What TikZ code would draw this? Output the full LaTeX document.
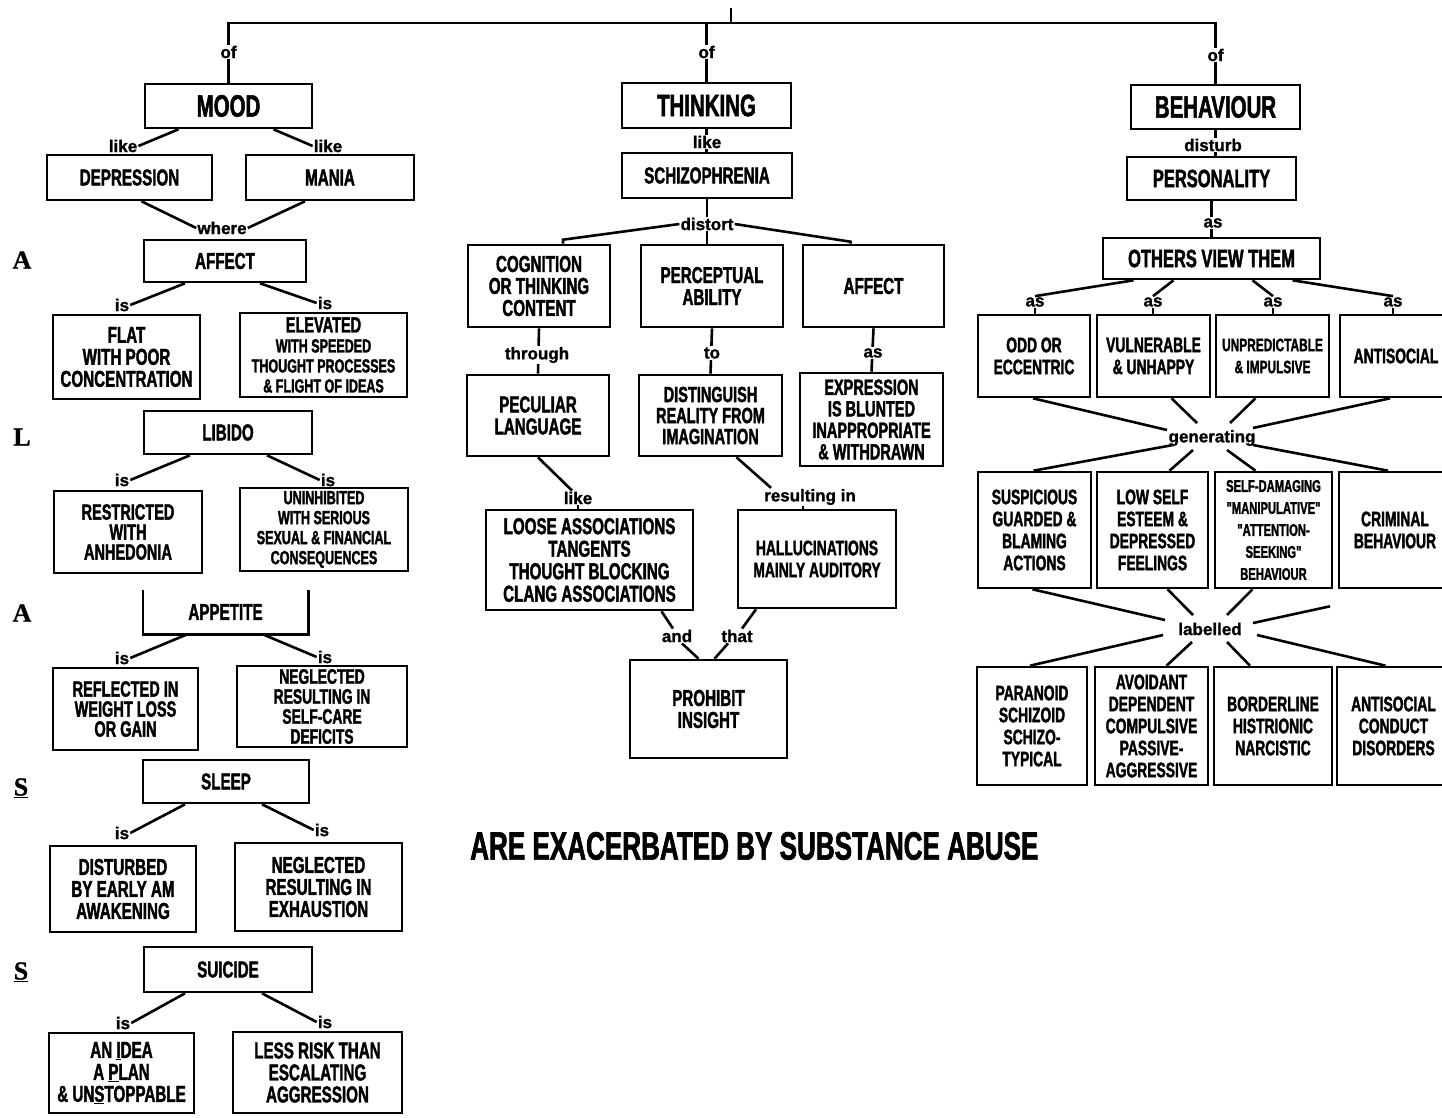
\documentclass[tikz,border=0pt]{standalone}
\usepackage{fontspec}
\setmainfont{Liberation Sans}
\newfontfamily\cf[FakeStretch=0.66,FakeBold=1.6]{Liberation Sans}
\newfontfamily\lf[FakeBold=1.2]{Liberation Sans}
\newfontfamily\serf[FakeBold=1]{Liberation Serif}
\usetikzlibrary{calc}
\newcommand\bx[2]{\cf\bfseries\fontsize{#1}{#2}\selectfont}
\newcommand\lbfont{\lf\bfseries\fontsize{17}{17}\selectfont}
\tikzset{
  box/.style={draw, line width=2.6pt, inner sep=0pt, align=center, font=\bx{23}{22}},
  rbox/.style={font=\bx{21}{22}},
  lbl/.style={font=\lbfont, inner sep=1pt, fill=white},
  ln/.style={line width=2.6pt},
  ltr/.style={font=\serf\bfseries\fontsize{26}{26}\selectfont, inner sep=0pt},
}
\newcommand\mybox[7][]{\node[box,minimum width={(#5)-(#3)},minimum height={(#6)-(#4)},#1] (#2) at ({((#3)+(#5))/2},{((#4)+(#6))/2}) {#7};}
\begin{document}
\begin{tikzpicture}[x=1pt,y=-1pt]
\useasboundingbox (0,0) rectangle (1442,1117);
\fill[white] (0,0) rectangle (1442,1117);
\clip (0,0) rectangle (1442,1117);

% ---------- left column ----------
\mybox[font=\bx{31}{30}]{mood}{145}{84}{312}{128}{MOOD}
\mybox{dep}{47}{155}{212}{200}{DEPRESSION}
\mybox{mania}{246}{155}{414}{200}{MANIA}
\mybox{affect}{144}{240}{306}{282}{AFFECT}
\mybox{flat}{53}{315}{200}{399}{FLAT\\WITH POOR\\CONCENTRATION}
\mybox[font=\bx{19}{20}]{elev}{240}{313}{407}{397}{{\fontsize{22}{20}\selectfont ELEVATED}\\WITH SPEEDED\\THOUGHT PROCESSES\\\& FLIGHT OF IDEAS}
\mybox{libido}{144}{411}{312}{454}{LIBIDO}
\mybox[font=\bx{22}{20}]{restr}{54}{491}{202}{573}{RESTRICTED\\WITH\\ANHEDONIA}
\mybox[font=\bx{19}{20}]{uninh}{240}{488}{408}{571}{UNINHIBITED\\WITH SERIOUS\\SEXUAL \& FINANCIAL\\CONSEQUENCES}
\node[inner sep=0pt, minimum width=165, minimum height=44, font=\bx{23}{22}] (app) at (225.5,612) {APPETITE};
\draw[ln] (app.north west) -- (app.south west) -- (app.south east) -- (app.north east);
\mybox[font=\bx{22}{20}]{refl}{53}{668}{198}{750}{REFLECTED IN\\WEIGHT LOSS\\OR GAIN}
\mybox[font=\bx{21}{20}]{negl}{237}{666}{407}{747}{NEGLECTED\\RESULTING IN\\SELF-CARE\\DEFICITS}
\mybox{sleep}{143}{760}{309}{803}{SLEEP}
\mybox{disturbed}{50}{846}{196}{932}{DISTURBED\\BY EARLY AM\\AWAKENING}
\mybox{negltwo}{235}{843}{402}{931}{NEGLECTED\\RESULTING IN\\EXHAUSTION}
\mybox{suicide}{144}{947}{312}{992}{SUICIDE}
\mybox{idea}{49}{1033}{194}{1113}{AN \underline{I}DEA\\A \underline{P}LAN\\\& UN\underline{S}TOPPABLE}
\mybox{risk}{233}{1032}{402}{1113}{LESS RISK THAN\\ESCALATING\\AGGRESSION}

\node[ltr] (la) at (22,260) {A};
\node[ltr] (ll) at (22,437) {L};
\node[ltr] (lb) at (22,613) {A};
\node[ltr] (ls) at (21,788) {\underline{S}};
\node[ltr] (lt) at (21,972) {\underline{S}};

% ---------- middle column ----------
\mybox[font=\bx{31}{30}]{think}{622}{83}{791}{128}{THINKING}
\mybox{schizo}{622}{153}{792}{198}{SCHIZOPHRENIA}
\mybox{cog}{468}{245}{610}{327}{COGNITION\\OR THINKING\\CONTENT}
\mybox{perc}{641}{245}{783}{327}{PERCEPTUAL\\ABILITY}
\mybox{afftwo}{803}{245}{944}{327}{AFFECT}
\mybox{pec}{467}{375}{609}{456}{PECULIAR\\LANGUAGE}
\mybox[font=\bx{22}{21}]{disting}{639}{375}{782}{456}{DISTINGUISH\\REALITY FROM\\IMAGINATION}
\mybox[font=\bx{22}{21.5}]{expr}{800}{373}{943}{466}{EXPRESSION\\IS BLUNTED\\INAPPROPRIATE\\\& WITHDRAWN}
\mybox[font=\bx{23}{22.5}]{loose}{486}{510}{693}{610}{LOOSE ASSOCIATIONS\\TANGENTS\\THOUGHT BLOCKING\\CLANG ASSOCIATIONS}
\mybox[font=\bx{21}{22}]{hall}{738}{510}{896}{608}{HALLUCINATIONS\\MAINLY AUDITORY}
\mybox{prohib}{630}{660}{787}{758}{PROHIBIT\\INSIGHT}

\node[font=\bx{39.5}{38}, anchor=west, inner sep=0pt] (abuse) at (470,846) {ARE EXACERBATED BY SUBSTANCE ABUSE};

% ---------- right column ----------
\mybox[font=\bx{31}{30}]{behav}{1131}{85}{1300}{129}{BEHAVIOUR}
\mybox[font=\bx{25}{24}]{pers}{1127}{157}{1296}{200}{PERSONALITY}
\mybox[font=\bx{25}{24}]{others}{1103}{238}{1320}{279}{OTHERS VIEW THEM}
\mybox[rbox]{odd}{978}{315}{1090}{397}{ODD OR\\ECCENTRIC}
\mybox[rbox]{vuln}{1097}{315}{1210}{397}{VULNERABLE\\\& UNHAPPY}
\mybox[rbox,font=\bx{18}{22}]{unpred}{1216}{315}{1329}{397}{UNPREDICTABLE\\\& IMPULSIVE}
\mybox[rbox]{anti}{1340}{315}{1452}{397}{ANTISOCIAL}
\mybox[rbox]{susp}{978}{472}{1091}{588}{SUSPICIOUS\\GUARDED \&\\BLAMING\\ACTIONS}
\mybox[rbox]{low}{1097}{472}{1208}{588}{LOW SELF\\ESTEEM \&\\DEPRESSED\\FEELINGS}
\mybox[rbox,font=\bx{17}{22}]{selfd}{1215}{472}{1332}{588}{SELF-DAMAGING\\"MANIPULATIVE"\\"ATTENTION-\\SEEKING"\\BEHAVIOUR}
\mybox[rbox]{crim}{1339}{472}{1451}{588}{CRIMINAL\\BEHAVIOUR}
\mybox[rbox]{para}{977}{667}{1087}{785}{PARANOID\\SCHIZOID\\SCHIZO-\\TYPICAL}
\mybox[rbox]{avoid}{1095}{667}{1208}{785}{AVOIDANT\\DEPENDENT\\COMPULSIVE\\PASSIVE-\\AGGRESSIVE}
\mybox[rbox]{bord}{1214}{667}{1332}{785}{BORDERLINE\\HISTRIONIC\\NARCISTIC}
\mybox[rbox]{antitwo}{1337}{667}{1450}{785}{ANTISOCIAL\\CONDUCT\\DISORDERS}

% ---------- lines passing through labels ----------
\coordinate (bar) at (731,23);
\coordinate (tick) at (731,8);
\draw[ln] (tick) -- (bar);
\draw[ln] (mood.north) -- (mood.north |- bar) -| (behav.north);
\draw[ln] (think.north) -- (think.north |- bar);
\draw[ln] (think.south) -- (think.south |- schizo.north);
\draw[ln] (cog.south) -- (pec.north);
\draw[ln] (perc.south) -- (disting.north);
\draw[ln] (afftwo.south) -- (expr.north);
\draw[ln] (behav.south) -- (behav.south |- pers.north);
\draw[ln] (pers.south) -- (pers.south |- others.north);

% ---------- labels ----------
\node[lbl] (ofa) at (228.5,52) {of};
\node[lbl] (ofb) at (706.5,52) {of};
\node[lbl] (ofc) at (1215.5,55) {of};
\node[lbl] (lka) at (123,146) {like};
\node[lbl] (lkb) at (328,146) {like};
\node[lbl] (where) at (222,228) {where};
\node[lbl] (isa) at (122,305) {is};
\node[lbl] (isb) at (325,303) {is};
\node[lbl] (isc) at (122,480) {is};
\node[lbl] (isd) at (328,480) {is};
\node[lbl] (ise) at (122,658) {is};
\node[lbl] (isf) at (325,657) {is};
\node[lbl] (isg) at (122,833) {is};
\node[lbl] (ish) at (322,830) {is};
\node[lbl] (isi) at (123,1023) {is};
\node[lbl] (isj) at (325,1022) {is};
\node[lbl] (lkc) at (707,142) {like};
\node[lbl] (distort) at (707,224) {distort};
\node[lbl] (through) at (537,355) {through};
\node[lbl] (tolbl) at (712,353) {to};
\node[lbl] (asa) at (873,353) {as};
\node[lbl] (lkd) at (578,498) {like};
\node[lbl] (resin) at (810,497) {resulting in};
\node[lbl] (andl) at (677,636) {and};
\node[lbl] (thatl) at (737,636) {that};
\node[lbl] (disturb) at (1213,145) {disturb};
\node[lbl] (asb) at (1213,223) {as};
\node[lbl] (asc) at (1035,302) {as};
\node[lbl] (asd) at (1153,302) {as};
\node[lbl] (ase) at (1273,302) {as};
\node[lbl] (asf) at (1393,302) {as};
\node[lbl] (gen) at (1212,438) {generating};
\node[lbl] (lab) at (1210,629) {labelled};

% ---------- connectors to labels ----------
\draw[ln] ($(mood.south)+(-50,0)$) -- (lka.east);
\draw[ln] ($(mood.south)+(45,0)$) -- (lkb.west);
\draw[ln] ($(dep.south)+(12,0)$) -- (where.west);
\draw[ln] ($(mania.south)+(-25,0)$) -- (where.east);
\draw[ln] ($(affect.south)+(-40,0)$) -- (isa.east);
\draw[ln] ($(affect.south)+(35,0)$) -- (isb.west);
\draw[ln] ($(libido.south)+(-38,0)$) -- (isc.east);
\draw[ln] ($(libido.south)+(39,0)$) -- (isd.west);
\draw[ln] ($(app.south)+(-38,0)$) -- (ise.east);
\draw[ln] ($(app.south)+(37,0)$) -- (isf.west);
\draw[ln] ($(sleep.south)+(-41,0)$) -- (isg.east);
\draw[ln] ($(sleep.south)+(36,0)$) -- (ish.west);
\draw[ln] ($(suicide.south)+(-43,0)$) -- (isi.east);
\draw[ln] ($(suicide.south)+(34,0)$) -- (isj.west);

\draw[ln] (schizo.south) -- (distort.north);
\draw[ln] (distort.west) -- ($(cog.north)+(24,-4)$) -- ($(cog.north)+(24,0)$);
\draw[ln] (distort.south) -- (distort.south |- perc.north);
\draw[ln] (distort.east) -- ($(afftwo.north)+(-23,-2)$) -- ($(afftwo.north)+(-23,0)$);
\draw[ln] (pec.south) -- ($(lkd.north)+(-6,0)$);
\draw[ln] (lkd.south) -- (lkd.south |- loose.north);
\draw[ln] ($(disting.south)+(26,0)$) -- ($(resin.north west)+(8,0)$);
\coordinate (rs) at ($(resin.south)+(-7,0)$);
\draw[ln] (rs) -- (rs |- hall.north);
\draw[ln] ($(loose.south)+(72,0)$) -- ($(andl.north)+(-4,0)$);
\draw[ln] ($(andl.south)+(5,0)$) -- ($(prohib.north)+(-10,0)$);
\draw[ln] ($(hall.south)+(-61,0)$) -- ($(thatl.north)+(5,0)$);
\draw[ln] ($(thatl.south)+(-9,0)$) -- ($(prohib.north)+(6,0)$);

\draw[ln] ($(others.south)+(-78,0)$) -- (asc.north);
\draw[ln] ($(others.south)+(-38,0)$) -- (asd.north);
\draw[ln] ($(others.south)+(41,0)$) -- (ase.north);
\draw[ln] ($(others.south)+(81,0)$) -- (asf.north);
\draw[ln] (asc.south) -- (asc.south |- odd.north);
\draw[ln] (asd.south) -- (asd.south |- vuln.north);
\draw[ln] (ase.south) -- (ase.south |- unpred.north);
\draw[ln] (asf.south) -- (asf.south |- anti.north);

\draw[ln] ($(odd.south)+(-1,0)$) -- ($(gen)+(-45,-8)$);
\draw[ln] ($(vuln.south)+(18,0)$) -- ($(gen)+(-15,-15)$);
\draw[ln] ($(unpred.south)+(-17,0)$) -- ($(gen)+(18,-15)$);
\draw[ln] ($(anti.south)+(-6,0)$) -- ($(gen)+(41,-10)$);
\draw[ln] ($(gen)+(-39,7)$) -- ($(susp.north)+(-1,0)$);
\draw[ln] ($(gen)+(-19,12)$) -- ($(low.north)+(17,0)$);
\draw[ln] ($(gen)+(15,12)$) -- ($(selfd.north)+(-18,0)$);
\draw[ln] ($(gen)+(41,7)$) -- ($(crim.north)+(-7,0)$);

\draw[ln] ($(susp.south)+(-2,0)$) -- ($(lab)+(-45,-9)$);
\draw[ln] ($(low.south)+(15,0)$) -- ($(lab)+(-17,-14)$);
\draw[ln] ($(selfd.south)+(-21,0)$) -- ($(lab)+(17,-14)$);
\coordinate (crimend) at ($(crim.south)+(-65,17)$);
\draw[ln] ($(lab)+(43,-6)$) -- (crimend);
\draw[ln] ($(lab)+(-47,6)$) -- ($(para.north)+(-2,0)$);
\draw[ln] ($(lab)+(-18,13)$) -- ($(avoid.north)+(15,0)$);
\draw[ln] ($(lab)+(17,13)$) -- ($(bord.north)+(-23,0)$);
\draw[ln] ($(lab)+(47,6)$) -- ($(antitwo.north)+(-8,0)$);
\end{tikzpicture}
\end{document}
